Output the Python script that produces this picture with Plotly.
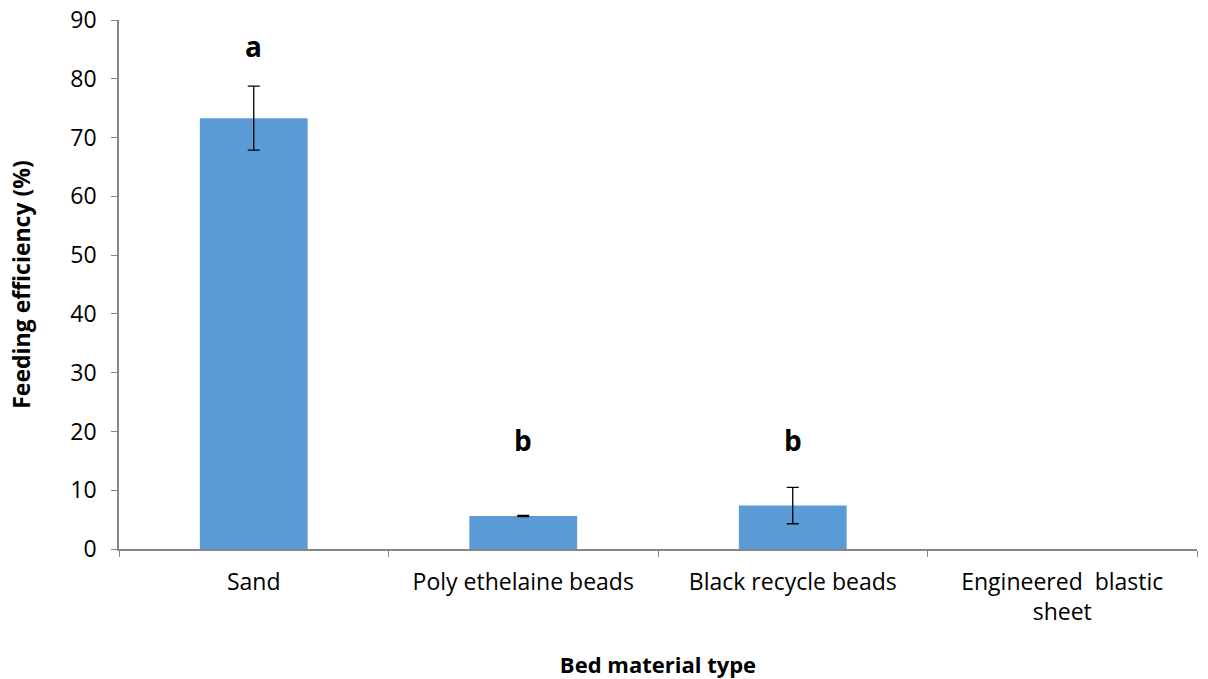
import plotly.graph_objects as go

# Feeding efficiency by bed material (mean ± SE)
materials = ["Sand", "Poly ethelaine beads", "Black recycle beads", "Engineered  blastic<br>sheet"]
efficiency = [73.3, 5.6, 7.4, 0.0]
std_error = [5.45, 0.1, 3.1, 0.0]
group_letters = ["a", "b", "b", ""]
letter_heights = [85.5, 18.5, 18.5, 0]

FONT = "'Open Sans', sans-serif"
AXIS_GREY = "#868686"

fig = go.Figure()
fig.add_trace(go.Bar(
    x=materials,
    y=efficiency,
    width=0.4,
    marker=dict(color="#5b9bd5", line=dict(width=0)),
))

# error bars only where there is a measured spread
with_err = [i for i, e in enumerate(std_error) if e > 0]
fig.add_trace(go.Scatter(
    x=[materials[i] for i in with_err],
    y=[efficiency[i] for i in with_err],
    mode="markers", marker=dict(size=0.1, opacity=0),
    error_y=dict(type="data", array=[std_error[i] for i in with_err], visible=True,
                 color="black", thickness=1.3, width=6),
    hoverinfo="skip",
))

for cat, letter, h in zip(materials, group_letters, letter_heights):
    if letter:
        fig.add_annotation(x=cat, y=h, text=f"<b>{letter}</b>", showarrow=False,
                           font=dict(family=FONT, size=28, color="black"))

fig.update_layout(
    width=1208, height=679,
    margin=dict(l=119, r=11, t=20, b=130),
    paper_bgcolor="white", plot_bgcolor="white",
    showlegend=False,
    font=dict(family=FONT, size=23, color="black"),
    xaxis=dict(
        type="category", tickson="boundaries", automargin=False,
        showline=True, linecolor=AXIS_GREY, linewidth=1.5,
        ticks="outside", ticklen=6, tickcolor=AXIS_GREY,
        showgrid=False, tickfont=dict(size=23), ticklabelstandoff=12,
        title=dict(text="<b>Bed material type</b>", font=dict(size=22), standoff=36),
    ),
    yaxis=dict(
        range=[0, 90], dtick=10, automargin=False,
        showline=True, linecolor=AXIS_GREY, linewidth=1.5,
        ticks="outside", ticklen=6, tickcolor=AXIS_GREY,
        showgrid=False, zeroline=False, tickfont=dict(size=23), ticklabelstandoff=10,
        title=dict(text="<b>Feeding efficiency (%)</b>", font=dict(size=23), standoff=33),
    ),
)

fig.write_html("out.html")
